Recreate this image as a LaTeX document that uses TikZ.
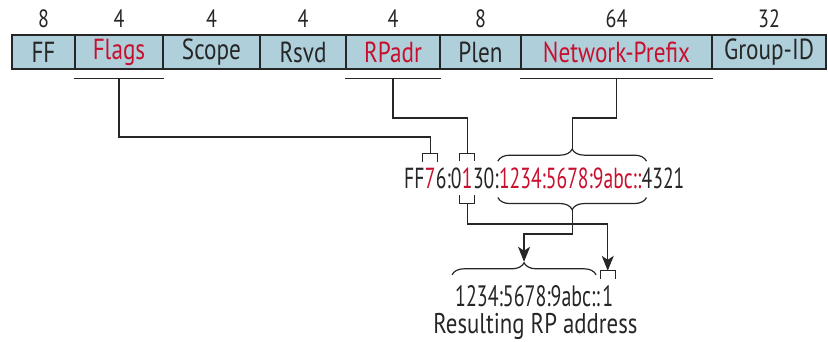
\documentclass[tikz,border=0pt]{standalone}
\usepackage{fontspec}
\setmainfont{PT Sans}[FakeStretch=0.8]
\newfontfamily\addrfont{PT Sans}[FakeStretch=0.675]
\usetikzlibrary{decorations.pathreplacing,arrows.meta}

\definecolor{fieldblue}{HTML}{AFCFDB}
\definecolor{prefred}{HTML}{C8102E}
\definecolor{ink}{HTML}{262626}

\tikzset{
  field/.style={draw=ink, fill=fieldblue, line width=1.3pt, minimum height=34pt,
    inner sep=0pt, font=\fontsize{29}{32}\selectfont},
  bits/.style={inner sep=0pt, text=ink, font=\fontsize{25}{28}\selectfont},
  part/.style={inner sep=0pt, anchor=base west, text=ink, font=\addrfont\fontsize{29}{32}\selectfont},
  link/.style={draw=ink, line width=1.2pt},
  brc/.style={link, decorate, decoration={brace, amplitude=12pt}},
  tip/.style={-{Stealth[length=15pt,width=12pt,inset=4pt]}}
}

% bracket over or under one character
\newcommand\markover[2]{%
  \draw[link] ([shift={(-2pt,6pt)}]#1.north west) |- ([shift={(2pt,14pt)}]#1.north east)
    -- ([shift={(2pt,6pt)}]#1.north east);
  \coordinate (#2) at ([yshift=14pt]#1.north);}
\newcommand\markunder[2]{%
  \draw[link] ([shift={(-2pt,-7pt)}]#1.south west) |- ([shift={(2pt,-15pt)}]#1.south east)
    -- ([shift={(2pt,-7pt)}]#1.south east);
  \coordinate (#2) at ([yshift=-15pt]#1.south);}

\begin{document}
\begin{tikzpicture}[x=1pt, y=-1pt]
  \useasboundingbox (0,0) rectangle (828,341);

  % Address fields with their widths in bits
  \foreach \name/\lbl/\bitn/\xa/\xb/\col in {ff/FF/8/12/75/ink, flags/Flags/4/75/163/prefred,
      scope/Scope/4/163/260/ink, rsvd/Rsvd/4/260/346/ink, rpadr/RPadr/4/346/440/prefred,
      plen/Plen/8/440/521/ink, netpfx/Network-Prefix/64/521/712/prefred,
      grpid/Group-ID/32/712/826/ink} {
    \pgfmathsetmacro\w{\xb-\xa}
    \node[field, text=\col, minimum width=\w pt] (\name) at ({(\xa+\xb)/2},52) {\lbl};
    \node[bits] (\name-bits) at ({(\xa+\xb)/2},19) {\bitn};
  }

  % Underlines of the fields that are used
  \foreach \name in {flags, rpadr, netpfx} {
    \draw[link] ([yshift=-9pt]\name.south west) -- ([yshift=-9pt]\name.south east);
    \coordinate (\name-ul) at ([yshift=-9pt]\name.south);
  }

  % Group address
  \node[part] (a-ff) at (404,188) {FF};
  \node[part, text=prefred] (flg) at (a-ff.base east) {7};
  \node[part] (a-sc) at (flg.base east) {6:0};
  \node[part, text=prefred] (rp) at (a-sc.base east) {1};
  \node[part] (a-pl) at (rp.base east) {30:};
  \node[part, text=prefred] (pfx) at (a-pl.base east) {1234:5678:9abc::};
  \node[part] (grp) at (pfx.base east) {4321};

  \markover{flg}{flg-top}
  \markover{rp}{rp-top}
  \markunder{rp}{rp-bot}

  \draw[brc] ([shift={(-1pt,6pt)}]pfx.north west) -- ([shift={(5pt,6pt)}]pfx.north east);
  \coordinate (pfx-top) at ([shift={(2pt,18pt)}]pfx.north);
  \draw[brc] ([shift={(5pt,-9pt)}]pfx.south east) -- ([shift={(-1pt,-9pt)}]pfx.south west);
  \coordinate (pfx-bot) at ([shift={(2pt,-21pt)}]pfx.south);

  % Resulting RP address
  \node[part, font=\addrfont\fontsize{29.5}{32}\selectfont] (res-pfx) at (455,306) {1234:5678:9abc::};
  \node[part, font=\addrfont\fontsize{29.5}{32}\selectfont] (res-id) at ([xshift=2pt]res-pfx.base east) {1};
  \node[anchor=base, inner sep=0pt, text=ink, font=\fontsize{28.5}{31}\selectfont]
    (caption) at (535.5,333) {Resulting RP address};

  \draw[brc] ([shift={(-3pt,10pt)}]res-pfx.north west) -- ([shift={(-4pt,10pt)}]res-pfx.north east);
  \coordinate (res-top) at ([shift={(-3.5pt,23pt)}]res-pfx.north);
  \markover{res-id}{id-top}

  % Connectors
  \coordinate (bend-a) at (0,137);
  \coordinate (bend-b) at (0,118);
  \coordinate (bend-c) at (0,224);
  \coordinate (bend-d) at (0,234);
  \draw[link] (flags-ul) -- (flags-ul |- bend-a) -| (flg-top);
  \draw[link] (rpadr-ul) -- (rpadr-ul |- bend-b) -| (rp-top);
  \draw[link] (netpfx-ul) -- (netpfx-ul |- bend-b) -| (pfx-top);
  \draw[link, tip] (rp-bot) -- (rp-bot |- bend-c) -| (id-top);
  \draw[link, tip] (pfx-bot) -- (pfx-bot |- bend-d) -| (res-top);

\end{tikzpicture}
\end{document}
